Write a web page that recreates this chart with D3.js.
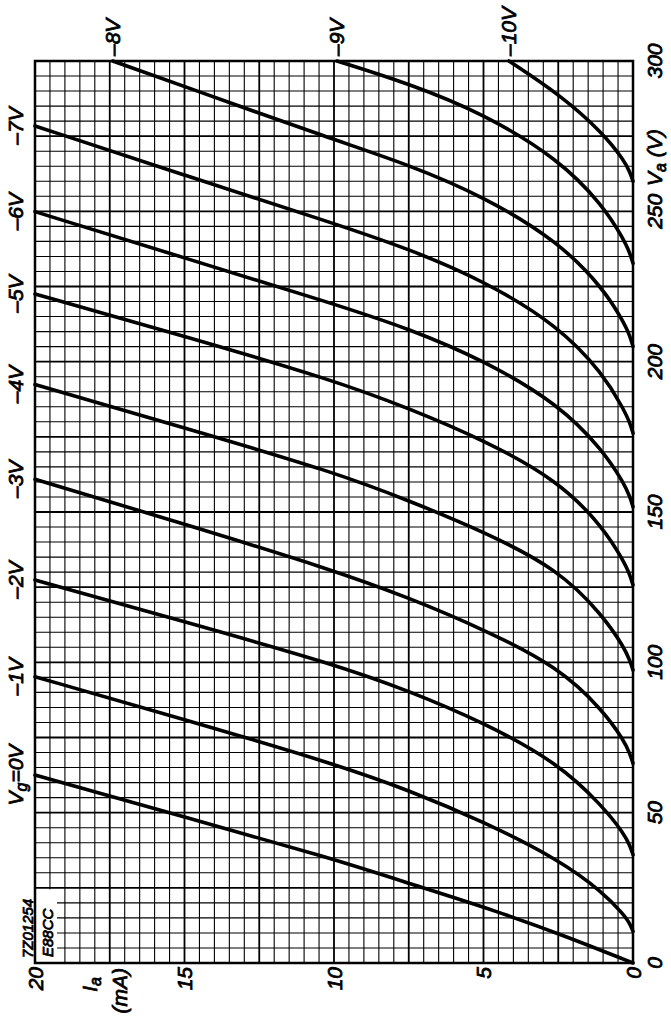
<!DOCTYPE html>
<html>
<head>
<meta charset="utf-8">
<script src="https://cdn.jsdelivr.net/npm/d3@7"></script>
<style>
  body { margin: 0; background: #fff; }
  text { font-family: "Liberation Sans", Arial, sans-serif; font-style: italic; fill: #000; stroke: #000; stroke-width: 0.8; }
</style>
</head>
<body>
<div id="chart"></div>
<script>
// ==== Data: E88CC anode characteristics, Ia (mA) vs Va (V) ====
const iaTicks = [0, 5, 10, 15, 20];
const vaTicks = [0, 50, 100, 150, 200, 250, 300];
const gridVolts = [0, -1, -2, -3, -4, -5, -6, -7, -8, -9, -10];

// one curve per grid voltage, points are [Ia, Va]
const vg0  = [[0,0],[2.2,8.7],[4.5,17.1],[7.5,26.5],[10,34.6],[15,48.6],[20,62.5]];
const vg1  = [[0,10.5],[0.1,13],[0.3,16],[1,23.5],[2.5,34.5],[5,47],[7.5,57.5],[10,66.3],[15,81],[20,95.2]];
const vg2  = [[0,36],[0.1,39],[0.3,43],[1,52],[2.5,66.5],[5,80],[7.5,90.5],[10,99.4],[15,113.5],[20,127.4]];
const vg3  = [[0,66.4],[0.1,69.5],[0.3,74],[1,84],[2.5,98.5],[5,111],[7.5,121.5],[10,130.6],[15,146],[20,160.9]];
const vg4  = [[0,97.4],[0.1,100.5],[0.3,105],[1,115.5],[2.5,131],[5,143.5],[7.5,153.8],[10,163.3],[15,178],[20,192.4]];
const vg5  = [[0,125.7],[0.1,129],[0.3,133.5],[1,145],[2.5,160.5],[5,174],[7.5,184.5],[10,193.8],[15,208.5],[20,222.5]];
const vg6  = [[0,151.7],[0.1,155],[0.3,159.5],[1,170.5],[2.5,186],[5,200.5],[7.5,211],[10,219.2],[15,234.5],[20,249.9]];
const vg7  = [[0,176.2],[0.1,179.5],[0.3,184],[1,196],[2.5,212],[5,227],[7.5,237.5],[10,246],[15,262],[20,278.4]];
const vg8  = [[0,205],[0.1,208.5],[0.3,213],[1,224.5],[2.5,240],[5,255],[7.5,265.5],[10,273.8],[15,291.5],[17.4,300]];
const vg9  = [[0,232.7],[0.1,236],[0.3,240.5],[1,252],[2.5,267.5],[5,282.5],[7.5,292.5],[9.9,300]];
const vg10 = [[0,260],[0.1,263],[0.3,267],[1,276],[2.4,288.5],[4.15,300]];
const curves = [vg0, vg1, vg2, vg3, vg4, vg5, vg6, vg7, vg8, vg9, vg10];

// ==== Setup ====
const width = 671, height = 1023;
const svg = d3.select("#chart").append("svg")
  .attr("width", width)
  .attr("height", height);

// chart is printed sideways: Ia runs right->left, Va runs bottom->top
const x = d3.scaleLinear().domain([0, 20]).range([633, 35]);
const y = d3.scaleLinear().domain([0, 300]).range([963, 61]);

// grid
const iaLines = d3.range(0, 20.001, 0.5);
const vaLines = d3.range(0, 300.001, 5);
const grid = svg.append("g");
grid.selectAll(".vline").data(iaLines).join("line")
  .attr("x1", d => x(d)).attr("x2", d => x(d))
  .attr("y1", y(0)).attr("y2", y(300))
  .attr("stroke", "#000")
  .attr("stroke-width", (d, i) => i % 5 === 0 ? 1.8 : 1.1);
grid.selectAll(".hline").data(vaLines).join("line")
  .attr("y1", d => y(d)).attr("y2", d => y(d))
  .attr("x1", x(0)).attr("x2", x(20))
  .attr("stroke", "#000")
  .attr("stroke-width", (d, i) => i % 5 === 0 ? 1.9 : 1.1);

// blank box for type number
svg.append("rect")
  .attr("x", x(20) + 1).attr("y", y(25) + 1.5)
  .attr("width", 21).attr("height", y(0) - y(25) - 2.5)
  .attr("fill", "#fff");

// frame
svg.append("rect")
  .attr("x", x(20)).attr("y", y(300))
  .attr("width", x(0) - x(20)).attr("height", y(0) - y(300))
  .attr("fill", "none").attr("stroke", "#000").attr("stroke-width", 2.5);

// curves
const line = d3.line()
  .x(d => x(d[0]))
  .y(d => y(d[1]))
  .curve(d3.curveBasis);

svg.append("g").selectAll("path").data(curves).join("path")
  .attr("d", d => line(d))
  .attr("fill", "none")
  .attr("stroke", "#000")
  .attr("stroke-width", 3.6)
  .attr("stroke-linecap", "round");

// rotated text helper
function rtext(px, py, anchor, size) {
  return svg.append("text")
    .attr("transform", `translate(${px},${py}) rotate(-90)`)
    .attr("text-anchor", anchor)
    .attr("font-size", size);
}

// Ia tick labels (below frame)
iaTicks.forEach(t => {
  rtext(x(t) + 7.5, 967, "end", 21).text(t);
});
// Va tick labels (right of frame)
vaTicks.forEach(t => {
  rtext(662, y(t), "middle", 21).text(t);
});

// axis titles
const va = rtext(662, 186, "start", 21);
va.append("tspan").text("V");
va.append("tspan").attr("dy", 4).attr("font-size", 16).text("a");
va.append("tspan").attr("dy", -4).text(" (V)");

const ia = rtext(97, 977, "end", 21);
ia.append("tspan").text("I");
ia.append("tspan").attr("dy", 4).attr("font-size", 16).text("a");
rtext(127, 968, "end", 21).text("(mA)");

// curve labels
curves.forEach((c, i) => {
  const last = c[c.length - 1];
  const v = gridVolts[i];
  if (last[0] >= 20) {
    const t = rtext(23, y(last[1]), "middle", 21);
    if (v === 0) {
      t.append("tspan").text("V");
      t.append("tspan").attr("dy", 4).attr("font-size", 16).text("g");
      t.append("tspan").attr("dy", -4).text("=0V");
    } else {
      t.text("\u2013" + Math.abs(v) + "V");
    }
  } else {
    rtext(x(last[0]) + 7.5, 56, "start", 21).text("\u2013" + Math.abs(v) + "V");
  }
});

// type reference
rtext(33, 958, "start", 15).text("7Z01254");
rtext(53, 957, "start", 15).text("E88CC");
</script>
</body>
</html>
